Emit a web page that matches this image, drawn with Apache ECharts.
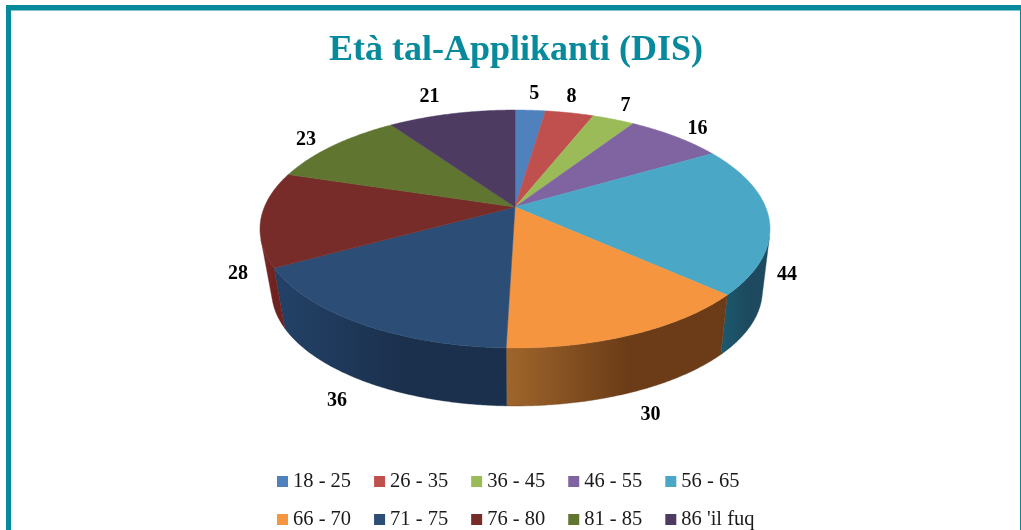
<!DOCTYPE html>
<html>
<head>
<meta charset="utf-8">
<style>html,body{margin:0;padding:0;background:#fff}#c{width:1021px;height:530px}</style>
<script src="https://cdn.jsdelivr.net/npm/echarts@6/dist/echarts.min.js"></script>
</head>
<body>
<div id="c"></div>
<script>
// Data
var titleText = "Età tal-Applikanti (DIS)";
var categories = ["18 - 25","26 - 35","36 - 45","46 - 55","56 - 65","66 - 70","71 - 75","76 - 80","81 - 85","86 'il fuq"];
var values = [5,8,7,16,44,30,36,28,23,21];

// Style
var topColors = ["#4F81BD","#C0504D","#9BBB59","#8064A2","#4AA8C6","#F59540","#2C4D75","#772C2A","#5F7530","#4D3B62"];
var wallLeft  = ["#2a4a70","#732f2e","#5d7035","#4d3c61","#1c5a70","#a0652b","#234268","#7c2a28","#3a4620","#2e2340"];
var wallRight = ["#2a4a70","#732f2e","#5d7035","#4d3c61","#1d4a5e","#6b3c17","#1b304d","#6e2320","#3a4620","#2e2340"];
// Label nudges relative to the rim point of each slice's mid-angle
var labelNudge = [[4,-16],[2,-16],[12,-13],[22,-8],[18,56],[17,80],[-23,77],[-23,55],[-27,-6],[-22,-17]];

// Perspective disc: apex, foreshortening and wall depth
var cx = 515, cy = 207, ax = 250.6, by = 114.9, k = -0.185, wallScale = 0.97, wallDrop = 62.2, wallLeftInset = 4;
var total = values.reduce(function (s, v) { return s + v; }, 0);

function rim(t, bottom) {
  var x = Math.sin(t), y = -Math.cos(t), d = 1 + k * y, s = bottom ? wallScale : 1;
  var inset = bottom ? wallLeftInset * Math.max(0, -x) : 0;
  return [cx + inset + s * ax * x / d, cy + (bottom ? wallDrop : 0) + s * by * y / d];
}
function frontFacing(t) {
  var p = rim(t, false), p2 = rim(t + 0.001, false), q = rim(t, true);
  return (p2[0] - p[0]) * (q[1] - p[1]) - (p2[1] - p[1]) * (q[0] - p[0]) < 0;
}
function renderSlice(index) {
  return function (params, api) {
    var before = 0;
    for (var i = 0; i < index; i++) before += values[i];
    var v = api.value(0);
    var t0 = before / total * 2 * Math.PI, t1 = (before + v) / total * 2 * Math.PI;
    var n = Math.max(8, Math.ceil((t1 - t0) / 0.008));
    var top = [[cx, cy]], wt = [], wb = [];
    for (var j = 0; j <= n; j++) {
      var t = t0 + (t1 - t0) * j / n;
      top.push(rim(t, false));
      if (frontFacing(t)) { wt.push(rim(t, false)); wb.unshift(rim(t, true)); }
    }
    var mid = (t0 + t1) / 2, m = rim(mid, false), nudge = labelNudge[index];
    var children = [];
    if (wt.length > 1) {
      children.push({
        type: 'polygon', z2: 1, shape: { points: wt.concat(wb) },
        style: {
          fill: new echarts.graphic.LinearGradient(0, 0, 1, 0, [
            { offset: 0, color: wallLeft[index] }, { offset: 0.55, color: wallRight[index] }, { offset: 1, color: wallRight[index] }
          ]),
          stroke: wallRight[index], lineWidth: 0.4
        }
      });
    }
    children.push({
      type: 'polygon', z2: 2, shape: { points: top },
      style: { fill: topColors[index], stroke: topColors[index], lineWidth: 0.5 }
    });
    children.push({
      type: 'text', z2: 3,
      style: {
        text: String(v), x: m[0] + nudge[0], y: m[1] + nudge[1],
        textAlign: 'center', textVerticalAlign: 'middle', align: 'center', verticalAlign: 'middle',
        fill: '#000', font: 'bold 20px "Liberation Serif"'
      }
    });
    return { type: 'group', children: children };
  };
}

var series = categories.map(function (name, i) {
  return {
    type: 'custom', name: name, coordinateSystem: 'none', silent: true,
    itemStyle: { color: topColors[i] },
    renderItem: renderSlice(i),
    data: [[values[i]]]
  };
});
function legendRow(names, top) {
  return {
    data: names, left: 277, top: top, orient: 'horizontal', icon: 'rect',
    itemWidth: 11, itemHeight: 11, itemGap: 23, padding: 0, selectedMode: false,
    textStyle: { fontFamily: 'Liberation Serif', fontSize: 20.5, color: '#1a1a1a', padding: 0 }
  };
}
var borderColor = '#078A9C';
var chart = echarts.init(document.getElementById('c'), null, { renderer: 'canvas' });
chart.setOption({
  animation: false,
  backgroundColor: '#fff',
  title: {
    text: titleText, left: 516, textAlign: 'center', top: 33, padding: 0,
    textStyle: { fontFamily: 'Liberation Serif', fontWeight: 'bold', fontSize: 36, color: borderColor }
  },
  legend: [legendRow(categories.slice(0, 5), 471), legendRow(categories.slice(5), 509)],
  graphic: [
    { type: 'rect', shape: { x: 6, y: 5, width: 1015, height: 5.5 }, style: { fill: borderColor }, silent: true },
    { type: 'rect', shape: { x: 6, y: 5, width: 5, height: 525 }, style: { fill: borderColor }, silent: true },
    { type: 'rect', shape: { x: 1020, y: 5, width: 1, height: 525 }, style: { fill: borderColor }, silent: true }
  ],
  series: series
});
</script>
</body>
</html>
